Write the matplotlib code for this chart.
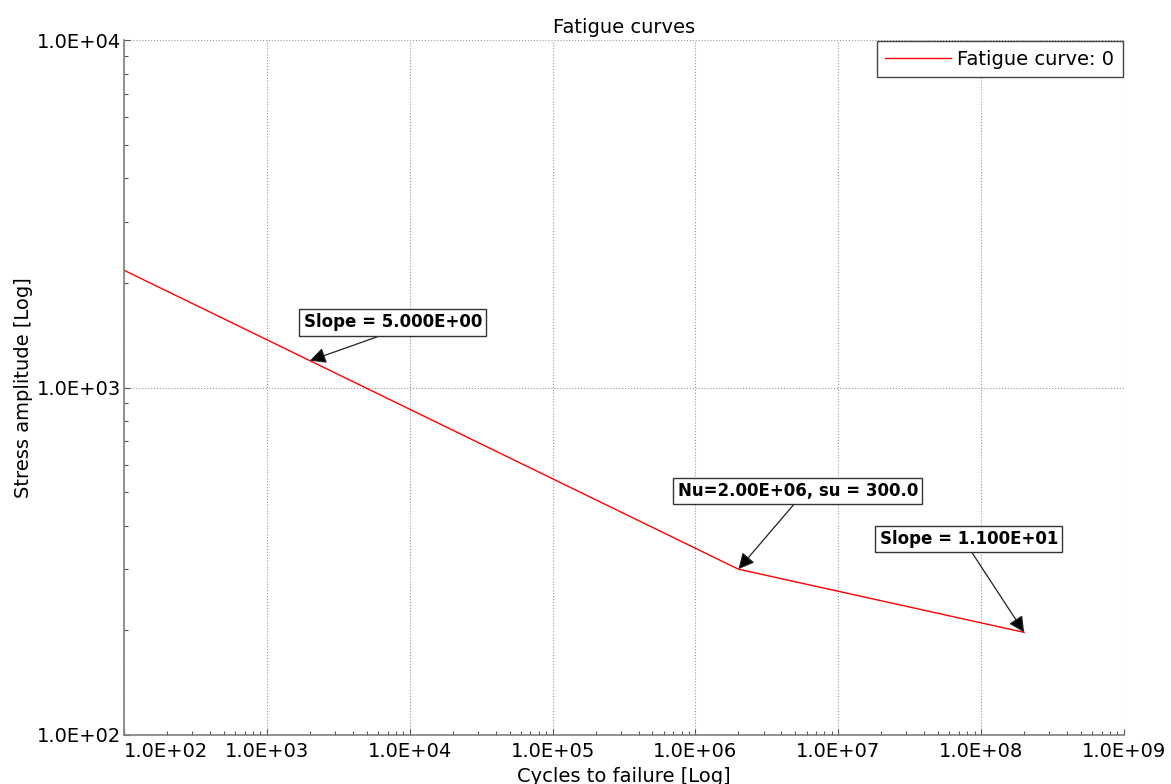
import numpy as np
import matplotlib
matplotlib.use("Agg")
import matplotlib.pyplot as plt
from matplotlib.ticker import NullFormatter

# S-N curve: cycles to failure vs stress amplitude (two slopes, knee at Nu)
cycles = [1.0e2, 2.0e6, 2.0e8]
stress = [2175.0, 300.0, 197.4]
curve_label = "Fatigue curve: 0"

knee_n = 2.0e6
knee_s = 300.0
slope_1 = 5.0
slope_2 = 11.0

xticks = [1e2, 1e3, 1e4, 1e5, 1e6, 1e7, 1e8, 1e9]
yticks = [1e2, 1e3, 1e4]


def sci(v):
    return "%.1E" % v


def curve_at(n):
    # point on the piecewise log-log line
    return 10 ** np.interp(np.log10(n), np.log10(cycles), np.log10(stress))


plt.rcParams['font.family'] = 'DejaVu Sans'
fig = plt.figure(figsize=(11.71, 7.84), dpi=100)
ax = fig.add_axes([124 / 1171, 1 - 735 / 784, 1000 / 1171, 695 / 784])

ax.plot(cycles, stress, color='#ff0000', lw=1.0, label=curve_label)
ax.set_xscale('log')
ax.set_yscale('log')
ax.set_xlim(1e2, 1e9)
ax.set_ylim(1e2, 1e4)

ax.set_xticks(xticks, labels=[sci(v) for v in xticks])
ax.set_yticks(yticks, labels=[sci(v) for v in yticks])
ax.xaxis.set_minor_formatter(NullFormatter())
ax.yaxis.set_minor_formatter(NullFormatter())
ax.get_xticklabels()[0].set_horizontalalignment('left')

ax.tick_params(which='both', direction='in', colors='#555555', labelcolor='black')
ax.tick_params(which='major', length=4, width=0.8)
ax.tick_params(which='minor', length=3, width=0.8)
ax.tick_params(axis='x', labelsize=14, pad=5)
ax.tick_params(axis='y', labelsize=14, pad=2)

for side in ['top', 'right']:
    ax.spines[side].set_visible(False)
for side in ['left', 'bottom']:
    ax.spines[side].set_color('#808080')
    ax.spines[side].set_linewidth(1.2)

ax.grid(True, which='major', linestyle=':', color='#999999', lw=0.8)

ax.set_title('Fatigue curves', fontsize=14, pad=5)
ax.set_xlabel('Cycles to failure [Log]', fontsize=14, labelpad=4)
ax.set_ylabel('Stress amplitude [Log]', fontsize=14, labelpad=3)

box = dict(boxstyle='square,pad=0.25', fc='white', ec='#333333', lw=1.0)
arrow = dict(arrowstyle='-|>', ec='#222222', fc='black', lw=0.9,
             mutation_scale=24, relpos=(0.5, 0.0), shrinkA=0, shrinkB=0)

ax.annotate('Slope = %.3E' % slope_1, xy=(2.0e3, curve_at(2.0e3)),
            xytext=(7.6e3, 1540), ha='center', va='center',
            fontsize=12, fontweight='bold', bbox=box, arrowprops=arrow)
ax.annotate('Nu=%.2E, su = %.1f' % (knee_n, knee_s), xy=(knee_n, knee_s),
            xytext=(5.2e6, 504), ha='center', va='center',
            fontsize=12, fontweight='bold', bbox=box, arrowprops=arrow)
ax.annotate('Slope = %.3E' % slope_2, xy=(cycles[-1], stress[-1]),
            xytext=(8.2e7, 367), ha='center', va='center',
            fontsize=12, fontweight='bold', bbox=box, arrowprops=arrow)

leg = ax.legend(loc='upper right', fontsize=14, fancybox=False, framealpha=1,
                edgecolor='#444444', borderaxespad=0.05, handlelength=3.4,
                handletextpad=0.3, borderpad=0.45)
leg.get_frame().set_linewidth(1.0)

fig.savefig('out.png', dpi=100)
